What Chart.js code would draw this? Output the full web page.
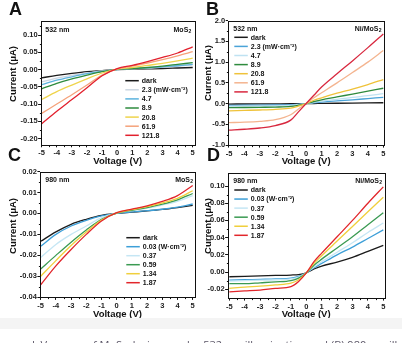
<!DOCTYPE html>
<html>
<head>
<meta charset="utf-8">
<script src="https://cdn.jsdelivr.net/npm/chart.js@4.4.1/dist/chart.umd.min.js"></script>
<style>
  html, body { margin: 0; padding: 0; background: #fff; }
  body { width: 410px; height: 343px; position: relative; overflow: hidden; font-family: "Liberation Sans", Arial, sans-serif; }
  canvas { position: absolute; }
  .tag { position: absolute; font: bold 18px "Liberation Sans", Arial, sans-serif; line-height: 18px; color: #111; }
  .band { position: absolute; left: 0; top: 318px; width: 402px; height: 11px; background: #f4f4f4; }
  .caption { position: absolute; left: 32px; top: 339px; font: 11px "Open Sans", sans-serif; line-height: 11px; color: #5a5566; white-space: nowrap; }
</style>
</head>
<body>
<canvas id="chartA" width="205" height="171" style="left:0;top:0"></canvas>
<canvas id="chartB" width="205" height="171" style="left:205px;top:0"></canvas>
<canvas id="chartC" width="205" height="162" style="left:0;top:162px"></canvas>
<canvas id="chartD" width="205" height="162" style="left:205px;top:162px"></canvas>
<div class="tag" style="left:9px;top:0">A</div>
<div class="tag" style="left:206px;top:0">B</div>
<div class="tag" style="left:8px;top:146px">C</div>
<div class="tag" style="left:207px;top:146px">D</div>
<div class="band"></div>
<div class="caption">I–V curves of MoS₂ devices under 532 nm illumination and (B) 980 nm illumination</div>
<script>
// bias sweep points
const volts = [-5, -4, -3, -2, -1, 0, 1, 2, 3, 4, 5];
const voltsKnee = [-5, -4, -3, -2, -1, -0.5, 0, 0.5, 1, 2, 3, 4, 5];

const labels532 = ['dark', '2.3 (mW·cm⁻²)', '4.7', '8.9', '20.8', '61.9', '121.8'];
const labels980 = ['dark', '0.03 (W·cm⁻²)', '0.37', '0.59', '1.34', '1.87'];

// currents in uA, one row per power density
const mos2At532 = [
  [-0.024, -0.017, -0.011, -0.006, -0.003, 0, 0.001, 0.002, 0.003, 0.0045, 0.006],
  [-0.036, -0.025, -0.017, -0.010, -0.004, 0, 0.002, 0.004, 0.007, 0.010, 0.0135],
  [-0.044, -0.031, -0.021, -0.012, -0.005, 0, 0.003, 0.005, 0.008, 0.011, 0.015],
  [-0.056, -0.040, -0.027, -0.016, -0.006, 0.0005, 0.003, 0.006, 0.010, 0.015, 0.020],
  [-0.087, -0.064, -0.045, -0.027, -0.010, 0.001, 0.006, 0.012, 0.018, 0.025, 0.033],
  [-0.127, -0.100, -0.073, -0.045, -0.016, 0.002, 0.010, 0.019, 0.029, 0.040, 0.052],
  [-0.157, -0.121, -0.087, -0.053, -0.018, 0.003, 0.012, 0.023, 0.035, 0.048, 0.066]
];
const nimos2At532 = [
  [-0.012, -0.010, -0.008, -0.006, -0.004, -0.002, 0, 0.002, 0.004, 0.008, 0.012, 0.016, 0.020],
  [-0.042, -0.040, -0.039, -0.035, -0.028, -0.015, 0, 0.020, 0.035, 0.065, 0.090, 0.120, 0.150],
  [-0.065, -0.062, -0.060, -0.055, -0.045, -0.025, 0, 0.030, 0.060, 0.100, 0.150, 0.190, 0.240],
  [-0.100, -0.095, -0.090, -0.085, -0.070, -0.040, 0, 0.050, 0.090, 0.160, 0.230, 0.300, 0.370],
  [-0.175, -0.165, -0.155, -0.140, -0.110, -0.060, 0, 0.080, 0.140, 0.250, 0.350, 0.460, 0.580],
  [-0.460, -0.450, -0.430, -0.390, -0.270, -0.130, 0, 0.140, 0.260, 0.500, 0.750, 1.000, 1.280],
  [-0.640, -0.620, -0.590, -0.530, -0.400, -0.200, 0, 0.200, 0.400, 0.720, 1.030, 1.350, 1.680]
];
const mos2At980 = [
  [-0.0133, -0.0088, -0.0052, -0.0028, -0.0009, 0, 0.0006, 0.0012, 0.0019, 0.0028, 0.0038],
  [-0.0157, -0.0100, -0.0060, -0.0033, -0.0012, 0, 0.0007, 0.0013, 0.0020, 0.0030, 0.0045],
  [-0.0210, -0.0148, -0.0100, -0.0060, -0.0020, 0.0002, 0.0013, 0.0025, 0.0040, 0.0058, 0.0085],
  [-0.0265, -0.0200, -0.0137, -0.0079, -0.0028, 0.0002, 0.0015, 0.0028, 0.0044, 0.0065, 0.0095],
  [-0.0300, -0.0225, -0.0153, -0.0089, -0.0031, 0.0003, 0.0018, 0.0032, 0.0050, 0.0072, 0.0108],
  [-0.0340, -0.0250, -0.0172, -0.0100, -0.0036, 0.0004, 0.0020, 0.0036, 0.0057, 0.0085, 0.0133]
];
const nimos2At980 = [
  [-0.0055, -0.0050, -0.0045, -0.0040, -0.0035, -0.0030, -0.0010, 0.0035, 0.0070, 0.0115, 0.0170, 0.0240, 0.0310],
  [-0.0095, -0.0090, -0.0085, -0.0080, -0.0070, -0.0050, -0.0010, 0.0050, 0.0100, 0.0200, 0.0290, 0.0390, 0.0490],
  [-0.0105, -0.0100, -0.0095, -0.0090, -0.0080, -0.0060, -0.0010, 0.0060, 0.0120, 0.0230, 0.0340, 0.0460, 0.0570],
  [-0.0135, -0.0135, -0.0125, -0.0115, -0.0100, -0.0070, -0.0010, 0.0080, 0.0150, 0.0280, 0.0410, 0.0550, 0.0690],
  [-0.0190, -0.0175, -0.0165, -0.0150, -0.0130, -0.0090, -0.0010, 0.0100, 0.0190, 0.0360, 0.0530, 0.0700, 0.0870],
  [-0.0230, -0.0220, -0.0210, -0.0190, -0.0170, -0.0110, -0.0010, 0.0120, 0.0220, 0.0410, 0.0600, 0.0800, 0.0990]
];

const colorsA = ['#1b1b1b', '#cdd7e2', '#5cb3de', '#2e8b3e', '#efd44c', '#f5a27a', '#e2202d'];
const colorsB = ['#1b1b1b', '#4aa3d8', '#bfe2f2', '#2e8b3e', '#efc23a', '#f4b48f', '#d8283f'];
const colors980 = ['#1b1b1b', '#3d9fd8', '#c5e6f4', '#3a9a52', '#f0cf3c', '#e2262b'];

const voltTicks = [-5, -4, -3, -2, -1, 0, 1, 2, 3, 4, 5];
const voltMinor = [-4.5, -3.5, -2.5, -1.5, -0.5, 0.5, 1.5, 2.5, 3.5, 4.5];
const ticksA = [-0.20, -0.15, -0.10, -0.05, 0.00, 0.05, 0.10];
const ticksB = [-1.0, -0.5, 0.0, 0.5, 1.0, 1.5, 2.0];
const ticksC = [-0.04, -0.03, -0.02, -0.01, 0.00, 0.01, 0.02];
const ticksD = [-0.02, 0.00, 0.02, 0.04, 0.06, 0.08, 0.10];

const FONT = '"Liberation Sans", Arial, sans-serif';

// frame, minor ticks, in-plot text, legend and axis titles
const panelDecor = {
  id: 'panelDecor',
  afterDatasetsDraw(chart, args, o) {
    const { ctx, chartArea: a, scales: { x, y } } = chart;
    const L = Math.round(a.left) + 0.5, T = Math.round(a.top) + 0.5;
    const R = Math.round(a.right) + 0.5, B = Math.round(a.bottom) + 0.5;
    ctx.save();
    ctx.strokeStyle = '#111';
    ctx.lineWidth = 1;
    ctx.strokeRect(L, T, R - L, B - T);

    ctx.beginPath();
    voltMinor.forEach(v => {
      const px = Math.round(x.getPixelForValue(v)) + 0.5;
      ctx.moveTo(px, B); ctx.lineTo(px, B + 1.6);
    });
    o.yMinor.forEach(v => {
      const py = Math.round(y.getPixelForValue(v)) + 0.5;
      ctx.moveTo(L, py); ctx.lineTo(L - 1.6, py);
    });
    ctx.stroke();

    ctx.fillStyle = '#111';
    ctx.font = 'bold 7px ' + FONT;
    ctx.textBaseline = 'middle';
    ctx.textAlign = 'left';
    ctx.fillText(o.wave, a.left + o.waveX, a.top + o.textY);

    // sample name with a lowered subscript "2"
    ctx.font = 'bold 5px ' + FONT;
    const subW = ctx.measureText('2').width;
    const subX = a.right - o.sampleX - subW;
    ctx.fillText('2', subX, a.top + o.textY + 2);
    ctx.font = 'bold 7px ' + FONT;
    ctx.textAlign = 'right';
    ctx.fillText(o.sample, subX - 0.2, a.top + o.textY);

    ctx.textAlign = 'left';
    chart.data.datasets.forEach((ds, i) => {
      const yy = a.top + o.legY + i * o.legStep;
      ctx.strokeStyle = ds.borderColor;
      ctx.lineWidth = 1.5;
      ctx.beginPath();
      ctx.moveTo(a.left + o.legX, yy);
      ctx.lineTo(a.left + o.legX + 13.5, yy);
      ctx.stroke();
      ctx.fillText(ds.label, a.left + o.legX + 16.5, yy + 0.5);
    });

    ctx.font = 'bold 9.5px ' + FONT;
    ctx.textAlign = 'center';
    ctx.fillText('Voltage (V)', (a.left + a.right) / 2, o.xTitleY);
    ctx.translate(o.yTitleX, o.yTitleY);
    ctx.rotate(-Math.PI / 2);
    ctx.fillText('Current (μA)', 0, 0);
    ctx.restore();
  }
};

function buildPanel(id, p) {
  const tickFont = { family: FONT, size: 7.5, weight: 'bold' };
  const tickGrid = { display: true, drawOnChartArea: false, drawTicks: true, tickLength: 2.6, color: '#111', lineWidth: 1 };
  return new Chart(document.getElementById(id), {
    type: 'line',
    data: {
      datasets: p.series.map((vals, i) => ({
        label: p.labels[i],
        data: vals.map((v, k) => ({ x: p.volts[k], y: v })),
        borderColor: p.colors[i],
        borderWidth: 1.3,
        pointRadius: 0,
        cubicInterpolationMode: 'monotone',
        order: p.series.length - i
      }))
    },
    options: {
      responsive: false,
      animation: false,
      devicePixelRatio: 1,
      layout: { padding: { left: 0, bottom: 0, top: p.padTop, right: p.padRight } },
      plugins: {
        legend: { display: false },
        tooltip: { enabled: false },
        panelDecor: p.decor
      },
      scales: {
        x: {
          type: 'linear',
          min: p.xMin, max: p.xMax,
          afterBuildTicks: s => { s.ticks = voltTicks.map(v => ({ value: v })); },
          afterFit: s => { s.height = p.xHeight; },
          grid: tickGrid,
          border: { display: false },
          ticks: { font: tickFont, color: '#222', padding: 1.5, maxRotation: 0, autoSkip: false, callback: v => String(v) }
        },
        y: {
          min: p.yMin, max: p.yMax,
          afterBuildTicks: s => { s.ticks = p.yTicks.map(v => ({ value: v })); },
          afterFit: s => { s.width = p.yWidth; },
          grid: tickGrid,
          border: { display: false },
          ticks: { font: tickFont, color: '#222', padding: 0.5, autoSkip: false, callback: v => v.toFixed(p.digits) }
        }
      }
    },
    plugins: [panelDecor]
  });
}

function halves(list) {
  const out = [];
  for (let i = 0; i < list.length - 1; i++) out.push((list[i] + list[i + 1]) / 2);
  return out;
}

buildPanel('chartA', {
  volts: volts, series: mos2At532, labels: labels532, colors: colorsA,
  xMin: -5.066, xMax: 5.132, yMin: -0.218, yMax: 0.14, yTicks: ticksA, digits: 2,
  padTop: 21.3, padRight: 10.3, yWidth: 40.7, xHeight: 26.3,
  decor: { wave: '532 nm', sample: 'MoS', waveX: 4.6, sampleX: 3.4, textY: 8.4,
           legX: 84.6, legY: 59.4, legStep: 9.1, yMinor: halves(ticksA).concat([0.125]),
           xTitleY: 161, yTitleX: 13.5, yTitleY: 74 }
});

buildPanel('chartB', {
  volts: voltsKnee, series: nimos2At532, labels: labels532, colors: colorsB,
  xMin: -5.045, xMax: 5.045, yMin: -1.0, yMax: 2.0, yTicks: ticksB, digits: 1,
  padTop: 20.7, padRight: 26, yWidth: 23.3, xHeight: 26,
  decor: { wave: '532 nm', sample: 'Ni/MoS', waveX: 5, sampleX: 2.5, textY: 8.3,
           legX: 6, legY: 16.6, legStep: 9.1, yMinor: halves(ticksB),
           xTitleY: 161, yTitleX: 3.8, yTitleY: 73 }
});

buildPanel('chartC', {
  volts: volts, series: mos2At980, labels: labels980, colors: colors980,
  xMin: -5.046, xMax: 5.151, yMin: -0.04, yMax: 0.02, yTicks: ticksC, digits: 2,
  padTop: 9.5, padRight: 10, yWidth: 40, xHeight: 26.7,
  decor: { wave: '980 nm', sample: 'MoS', waveX: 5.3, sampleX: 2, textY: 8.5,
           legX: 86.3, legY: 66.2, legStep: 9.0, yMinor: halves(ticksC),
           xTitleY: 152, yTitleX: 13.5, yTitleY: 64 }
});

buildPanel('chartD', {
  volts: voltsKnee, series: nimos2At980, labels: labels980, colors: colors980,
  xMin: -5.104, xMax: 5.078, yMin: -0.0302, yMax: 0.1148, yTicks: ticksD, digits: 2,
  padTop: 11.3, padRight: 25.5, yWidth: 22.7, xHeight: 26,
  decor: { wave: '980 nm', sample: 'Ni/MoS', waveX: 5.6, sampleX: 2.5, textY: 7.7,
           legX: 6.6, legY: 16.7, legStep: 9.06, yMinor: halves(ticksD),
           xTitleY: 152.7, yTitleX: 3.8, yTitleY: 64 }
});
</script>
</body>
</html>
